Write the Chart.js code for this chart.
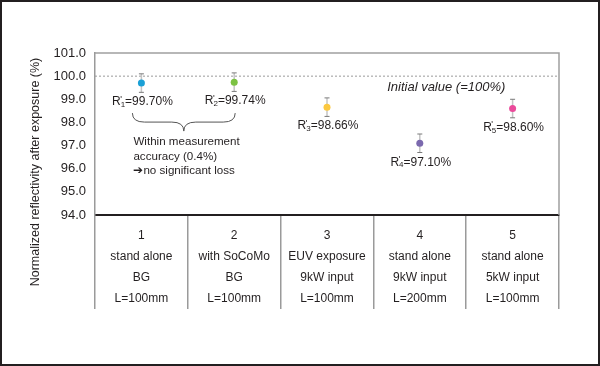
<!DOCTYPE html>
<html>
<head>
<meta charset="utf-8">
<script src="https://cdn.jsdelivr.net/npm/chart.js@4"></script>
<style>
  html, body { margin:0; padding:0; background:#fff; }
  #frame { width:600px; height:366px; box-sizing:border-box; border:2px solid #231f20; }
</style>
</head>
<body>
<div id="frame"><canvas id="c" width="596" height="362"></canvas></div>
<script>
  // ── DATA ──────────────────────────────────────────────
  var CATEGORIES = [
    ['1', 'stand alone',  'BG',          'L=100mm'],
    ['2', 'with SoCoMo',  'BG',          'L=100mm'],
    ['3', 'EUV exposure', '9kW input',   'L=100mm'],
    ['4', 'stand alone',  '9kW input',   'L=200mm'],
    ['5', 'stand alone',  '5kW input',   'L=100mm']
  ];
  var VALUES       = [99.70, 99.74, 98.66, 97.10, 98.60];
  var ERRORS       = [0.4, 0.4, 0.4, 0.4, 0.4];
  var VALUE_TEXT   = ['99.70%', '99.74%', '98.66%', '97.10%', '98.60%'];
  var POINT_COLORS = ['#1ba0d6', '#7cc243', '#fbc840', '#7b69ae', '#ea4b9b'];
  var Y_MIN = 94, Y_MAX = 101, Y_STEP = 1;
  var INITIAL_VALUE = 100;
  var Y_TITLE   = 'Normalized reflectivity after exposure (%)';
  var REF_LABEL = 'Initial value (=100%)';
  var NOTE_LINES = ['Within measurement', 'accuracy (0.4%)', '\u2794no significant loss'];

  var INK  = '#231f20';
  var FONT = "'Liberation Sans', Arial, Helvetica, sans-serif";
  Chart.defaults.font.family = FONT;
  Chart.defaults.color = INK;

  // ── ANNOTATIONS (frame, 100% line, error bars, labels) ─
  var annot = {
    id: 'annot',
    beforeDatasetsDraw: function (chart) {
      var ctx = chart.ctx, a = chart.chartArea;
      var xs = chart.scales.x, ys = chart.scales.y;
      ctx.save();
      // top + right frame
      ctx.strokeStyle = '#a0a0a0';
      ctx.lineWidth = 1.5;
      ctx.beginPath();
      ctx.moveTo(a.left, a.top);
      ctx.lineTo(a.right, a.top);
      ctx.lineTo(a.right, a.bottom);
      ctx.stroke();
      // initial value line
      var y100 = ys.getPixelForValue(INITIAL_VALUE);
      ctx.strokeStyle = '#9a9a9a';
      ctx.lineWidth = 1;
      ctx.setLineDash([2, 2]);
      ctx.beginPath();
      ctx.moveTo(a.left, y100);
      ctx.lineTo(a.right, y100);
      ctx.stroke();
      ctx.setLineDash([]);
      // error bars
      for (var i = 0; i < VALUES.length; i++) {
        var x  = xs.getPixelForValue(i);
        var yt = ys.getPixelForValue(VALUES[i] + ERRORS[i]);
        var yb = ys.getPixelForValue(VALUES[i] - ERRORS[i]);
        ctx.strokeStyle = '#c4c4c4';
        ctx.lineWidth = 1.5;
        ctx.beginPath();
        ctx.moveTo(x, yt); ctx.lineTo(x, yb);
        ctx.stroke();
        ctx.strokeStyle = '#7a7a7a';
        ctx.lineWidth = 1;
        ctx.beginPath();
        ctx.moveTo(x - 2.5, yt); ctx.lineTo(x + 2.5, yt);
        ctx.moveTo(x - 2.5, yb); ctx.lineTo(x + 2.5, yb);
        ctx.stroke();
      }
      ctx.restore();
    },
    afterDatasetsDraw: function (chart) {
      var ctx = chart.ctx, a = chart.chartArea;
      var xs = chart.scales.x, ys = chart.scales.y;
      ctx.save();
      ctx.fillStyle = INK;
      ctx.textBaseline = 'middle';

      // R'n = value labels
      for (var i = 0; i < VALUES.length; i++) {
        var cx = xs.getPixelForValue(i) + 1;
        var cy = ys.getPixelForValue(VALUES[i]) + 19;
        ctx.font = '12px ' + FONT;
        var wR = ctx.measureText('R').width;
        var wRest = ctx.measureText('=' + VALUE_TEXT[i]).width;
        ctx.font = '8px ' + FONT;
        var wSub = ctx.measureText(String(i + 1)).width;
        var x0 = cx - (wR + wSub + wRest) / 2;
        ctx.textAlign = 'left';
        ctx.font = '12px ' + FONT;
        ctx.fillText('R', x0, cy);
        ctx.fillText('=' + VALUE_TEXT[i], x0 + wR + wSub, cy);
        ctx.font = '9px ' + FONT;
        ctx.fillText('\'', x0 + wR - 0.5, cy - 3);
        ctx.font = '8px ' + FONT;
        ctx.fillText(String(i + 1), x0 + wR, cy + 3);
      }

      // initial value caption
      ctx.font = 'italic 13px ' + FONT;
      ctx.textAlign = 'center';
      ctx.fillText(REF_LABEL, a.left + a.width * 0.757, ys.getPixelForValue(INITIAL_VALUE) + 11);

      // brace under points 1 and 2
      var x1 = xs.getPixelForValue(0) - 9;
      var x2 = xs.getPixelForValue(1) + 1;
      var y0 = ys.getPixelForValue(VALUES[0]) + 30;
      var mid = (x1 + x2) / 2;
      ctx.strokeStyle = '#555';
      ctx.lineWidth = 1;
      ctx.beginPath();
      ctx.moveTo(x1, y0);
      ctx.quadraticCurveTo(x1, y0 + 9, x1 + 12, y0 + 9);
      ctx.lineTo(mid - 12, y0 + 9);
      ctx.quadraticCurveTo(mid, y0 + 9, mid, y0 + 18);
      ctx.quadraticCurveTo(mid, y0 + 9, mid + 12, y0 + 9);
      ctx.lineTo(x2 - 12, y0 + 9);
      ctx.quadraticCurveTo(x2, y0 + 9, x2, y0);
      ctx.stroke();

      ctx.font = '11.6px ' + FONT;
      ctx.textAlign = 'left';
      for (var k = 0; k < NOTE_LINES.length; k++) {
        ctx.fillText(NOTE_LINES[k], x1 + 1, y0 + 29 + k * 14.5);
      }

      // y-axis title
      ctx.font = '12.5px ' + FONT;
      ctx.translate(34, a.top + 119);
      ctx.rotate(-Math.PI / 2);
      ctx.textAlign = 'center';
      ctx.fillText(Y_TITLE, 0, 0);
      ctx.restore();
    }
  };

  new Chart(document.getElementById('c'), {
    type: 'line',
    data: {
      labels: CATEGORIES,
      datasets: [{
        data: VALUES,
        showLine: false,
        pointRadius: 3.5,
        pointHoverRadius: 3.5,
        pointBorderWidth: 0,
        pointBackgroundColor: POINT_COLORS,
        pointBorderColor: POINT_COLORS
      }]
    },
    options: {
      responsive: false,
      animation: false,
      events: [],
      layout: { padding: { left: 51, top: 51, right: 39, bottom: 49 } },
      plugins: { legend: { display: false }, tooltip: { enabled: false } },
      scales: {
        x: {
          offset: true,
          afterFit: function (s) { s.height = 100; },
          grid: { offset: true, drawOnChartArea: false, drawTicks: true, tickLength: 94,
                  color: '#9a9a9a', lineWidth: 1.5 },
          border: { color: INK, width: 2 },
          ticks: { padding: -84, color: INK, maxRotation: 0, autoSkip: false,
                   font: { size: 12, lineHeight: 1.75 } }
        },
        y: {
          min: Y_MIN, max: Y_MAX,
          afterFit: function (s) { s.width = 42; },
          grid: { drawOnChartArea: false, drawTicks: false },
          border: { color: '#9a9a9a', width: 1.5 },
          ticks: { stepSize: Y_STEP, padding: 9, color: INK, font: { size: 13 },
                   callback: function (v) { return v.toFixed(1); } }
        }
      }
    },
    plugins: [annot]
  });
</script>
</body>
</html>
